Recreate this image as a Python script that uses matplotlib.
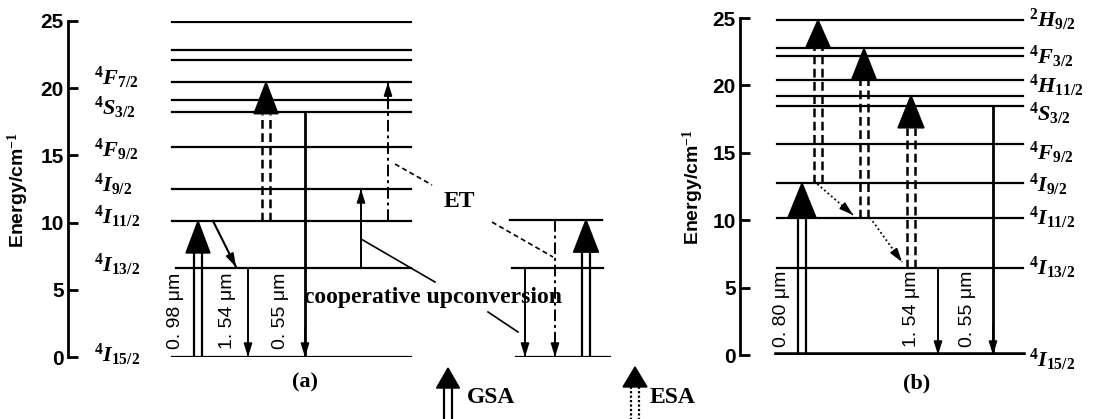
import matplotlib.pyplot as plt

plt.rcParams['mathtext.fontset'] = 'custom'
plt.rcParams['mathtext.it'] = 'Liberation Serif:italic:bold'
plt.rcParams['mathtext.rm'] = 'Liberation Serif:bold'
plt.rcParams['mathtext.bf'] = 'Liberation Serif:bold'

# energy levels (10^3 cm^-1)
levels_a = [24.9, 22.85, 22.1, 20.45, 19.15, 18.2, 15.65, 12.5, 10.12, 6.64, 0.0]
levels_side = [10.2, 6.64, 0.0]
levels_b = [24.85, 22.75, 22.2, 20.4, 19.25, 18.45, 15.65, 12.75, 10.2, 6.45, 0.0]

labels_a = [r'$^4F_{7/2}$', r'$^4S_{3/2}$', r'$^4F_{9/2}$', r'$^4I_{9/2}$',
            r'$^4I_{11/2}$', r'$^4I_{13/2}$', r'$^4I_{15/2}$']
label_e_a = [20.75, 18.5, 15.4, 12.8, 10.4, 6.85, 0.15]
labels_b = [r'$^2H_{9/2}$', r'$^4F_{3/2}$', r'$^4H_{11/2}$', r'$^4S_{3/2}$', r'$^4F_{9/2}$',
            r'$^4I_{9/2}$', r'$^4I_{11/2}$', r'$^4I_{13/2}$', r'$^4I_{15/2}$']
label_e_b = [24.85, 22.1, 19.95, 17.9, 15.0, 12.6, 10.2, 6.45, -0.4]

energy_ticks = [0, 5, 10, 15, 20, 25]
wavelengths_a = ['0. 98 μm', '1. 54 μm', '0. 55 μm']
wavelengths_b = ['0. 80 μm', '1. 54 μm', '0. 55 μm']

W, H = 1101, 419
fig = plt.figure(figsize=(W / 100, H / 100), dpi=100)

SANS = 'Liberation Sans'
SERIF = 'Liberation Serif'


def make_axes(x0, x1, ytop, ybot):
    ax = fig.add_axes([x0 / W, 1 - ybot / H, (x1 - x0) / W, (ybot - ytop) / H])
    ax.set_xlim(x0, x1)
    ax.set_ylim(0, 25)
    ax.patch.set_visible(False)
    for s in ('top', 'right', 'bottom'):
        ax.spines[s].set_visible(False)
    ax.spines['left'].set_linewidth(2)
    ax.set_xticks([])
    ax.set_yticks(energy_ticks)
    ax.tick_params(axis='y', direction='in', length=7, width=2, labelsize=15, pad=3)
    for t in ax.get_yticklabels():
        t.set_fontweight('bold')
        t.set_family(SANS)
    return ax


def head(ax, x, base, tip, hw):
    ax.fill([x - hw, x + hw, x], [base, base, tip], color='k', zorder=5, clip_on=False)


def gsa(ax, x, y0, base, tip, hw=12, ls='-'):
    for dx in (-4, 4):
        ax.plot([x + dx, x + dx], [y0, base], color='k', lw=1.6, ls=ls, zorder=4,
                clip_on=False, solid_capstyle='butt')
    head(ax, x, base, tip, hw)


def esa(ax, x, y0, base, tip, hw=12):
    for dx in (-4, 4):
        ax.plot([x + dx, x + dx], [y0, base], color='k', lw=1.8, ls=(0, (3.5, 1.8)), zorder=4)
    head(ax, x, base, tip, hw)


def arrow(ax, x0, y0, x1, y1, lw=1.5, ls='-'):
    ax.plot([x0, x1], [y0, y1], color='k', lw=lw, ls=ls, zorder=4)
    f = 0.12
    ax.annotate('', xy=(x1, y1), xytext=(x1 - (x1 - x0) * f, y1 - (y1 - y0) * f),
                arrowprops=dict(arrowstyle='-|>,head_length=0.8,head_width=0.25',
                                color='k', lw=1.2, shrinkA=0, shrinkB=0), zorder=5)


def vlabel(ax, x, y, s):
    ax.text(x, y, s, rotation=90, ha='center', va='center', fontsize=14, family=SANS)


# ---------------- panel (a) ----------------
axA = make_axes(68, 700, 21, 357)
for e in levels_a:
    x0 = 176 if e == 6.64 else 172
    axA.plot([x0, 411], [e, e], color='k', lw=1.6, zorder=2)
for s, e in zip(labels_a, label_e_a):
    axA.text(94, e, s, ha='left', va='center', fontsize=16)

gsa(axA, 198, 0, 7.74, 10.12, hw=12)
esa(axA, 266, 10.12, 18.1, 20.45, hw=12)
arrow(axA, 213, 10.12, 236, 6.7)
arrow(axA, 248, 6.64, 248, 0, lw=1.4)
arrow(axA, 305, 18.2, 305, 0, lw=2)
arrow(axA, 361, 6.64, 361, 12.5, lw=1.4)
arrow(axA, 388, 10.12, 388, 20.45, lw=1.4, ls=(0, (6, 2, 1.5, 2)))
for x, s in zip([175, 227, 280], wavelengths_a):
    vlabel(axA, x, 3.42, s)

# side diagram of the ET / cooperative upconversion pair
for e, (x0, x1) in zip(levels_side, [(510, 602), (512, 603), (516, 610)]):
    axA.plot([x0, x1], [e, e], color='k', lw=1.6, zorder=2)
arrow(axA, 525, 6.64, 525, 0, lw=1.4)
arrow(axA, 555, 10.2, 555, 0, lw=1.4, ls=(0, (6, 2, 1.5, 2)))
gsa(axA, 586, 0, 7.8, 10.2, hw=12.5)

# leaders and annotations
axA.plot([361, 435], [8.78, 5.58], color='k', lw=1.2)
axA.plot([488, 518], [3.35, 1.86], color='k', lw=1.2)
axA.plot([395, 432], [14.36, 12.8], color='k', lw=1.2, ls=(0, (3, 2)))
axA.plot([492, 553], [10.04, 7.44], color='k', lw=1.2, ls=(0, (3, 2)))
axA.text(459, 11.6, 'ET', ha='center', va='center', fontsize=17, family=SERIF,
         weight='bold')
axA.text(433, 4.46, 'cooperative upconversion', ha='center', va='center', fontsize=17,
         family=SERIF, weight='bold')
axA.text(305, -1.93, '(a)', ha='center', va='center', fontsize=16, family=SERIF,
         weight='bold', clip_on=False)

# legend
gsa(axA, 448, -4.8, -2.31, -0.82, hw=11.5)
axA.text(467, -3.05, 'GSA', ha='left', va='center', fontsize=17, family=SERIF, weight='bold')
gsa(axA, 635, -4.8, -2.23, -0.74, hw=12, ls=(0, (1, 1)))
axA.text(650, -3.05, 'ESA', ha='left', va='center', fontsize=17, family=SERIF, weight='bold')

# ---------------- panel (b) ----------------
axB = make_axes(740, 1101, 18, 355)
for e in levels_b:
    axB.plot([777, 1023], [e, e], color='k', lw=4 if e == 0 else 1.6, zorder=2)
for s, e in zip(labels_b, label_e_b):
    axB.text(1029, e, s, ha='left', va='center', fontsize=16)

gsa(axB, 802, 0, 10.2, 12.75, hw=14)
esa(axB, 818, 12.75, 22.75, 24.85, hw=12.5)
esa(axB, 864, 10.2, 20.4, 22.75, hw=12.5)
esa(axB, 911, 6.45, 16.85, 19.25, hw=13)
arrow(axB, 814, 12.9, 853, 10.39, lw=1.3, ls=(0, (1, 1.5)))
arrow(axB, 870, 10.2, 902, 6.9, lw=1.3, ls=(0, (1, 1.5)))
arrow(axB, 938, 6.45, 938, 0, lw=1.4)
arrow(axB, 993, 18.45, 993, 0, lw=2)
for x, s in zip([781, 912, 968], wavelengths_b):
    vlabel(axB, x, 3.4, s)
axB.text(917, -2.08, '(b)', ha='center', va='center', fontsize=16, family=SERIF,
         weight='bold', clip_on=False)

# axis titles
for x, y in [(18, 190), (693, 187)]:
    fig.text(x / W, 1 - y / H, 'Energy/cm$^{-1}$', rotation=90, ha='center', va='center',
             fontsize=14, family=SANS, weight='bold')

fig.savefig('out.png', dpi=100)
